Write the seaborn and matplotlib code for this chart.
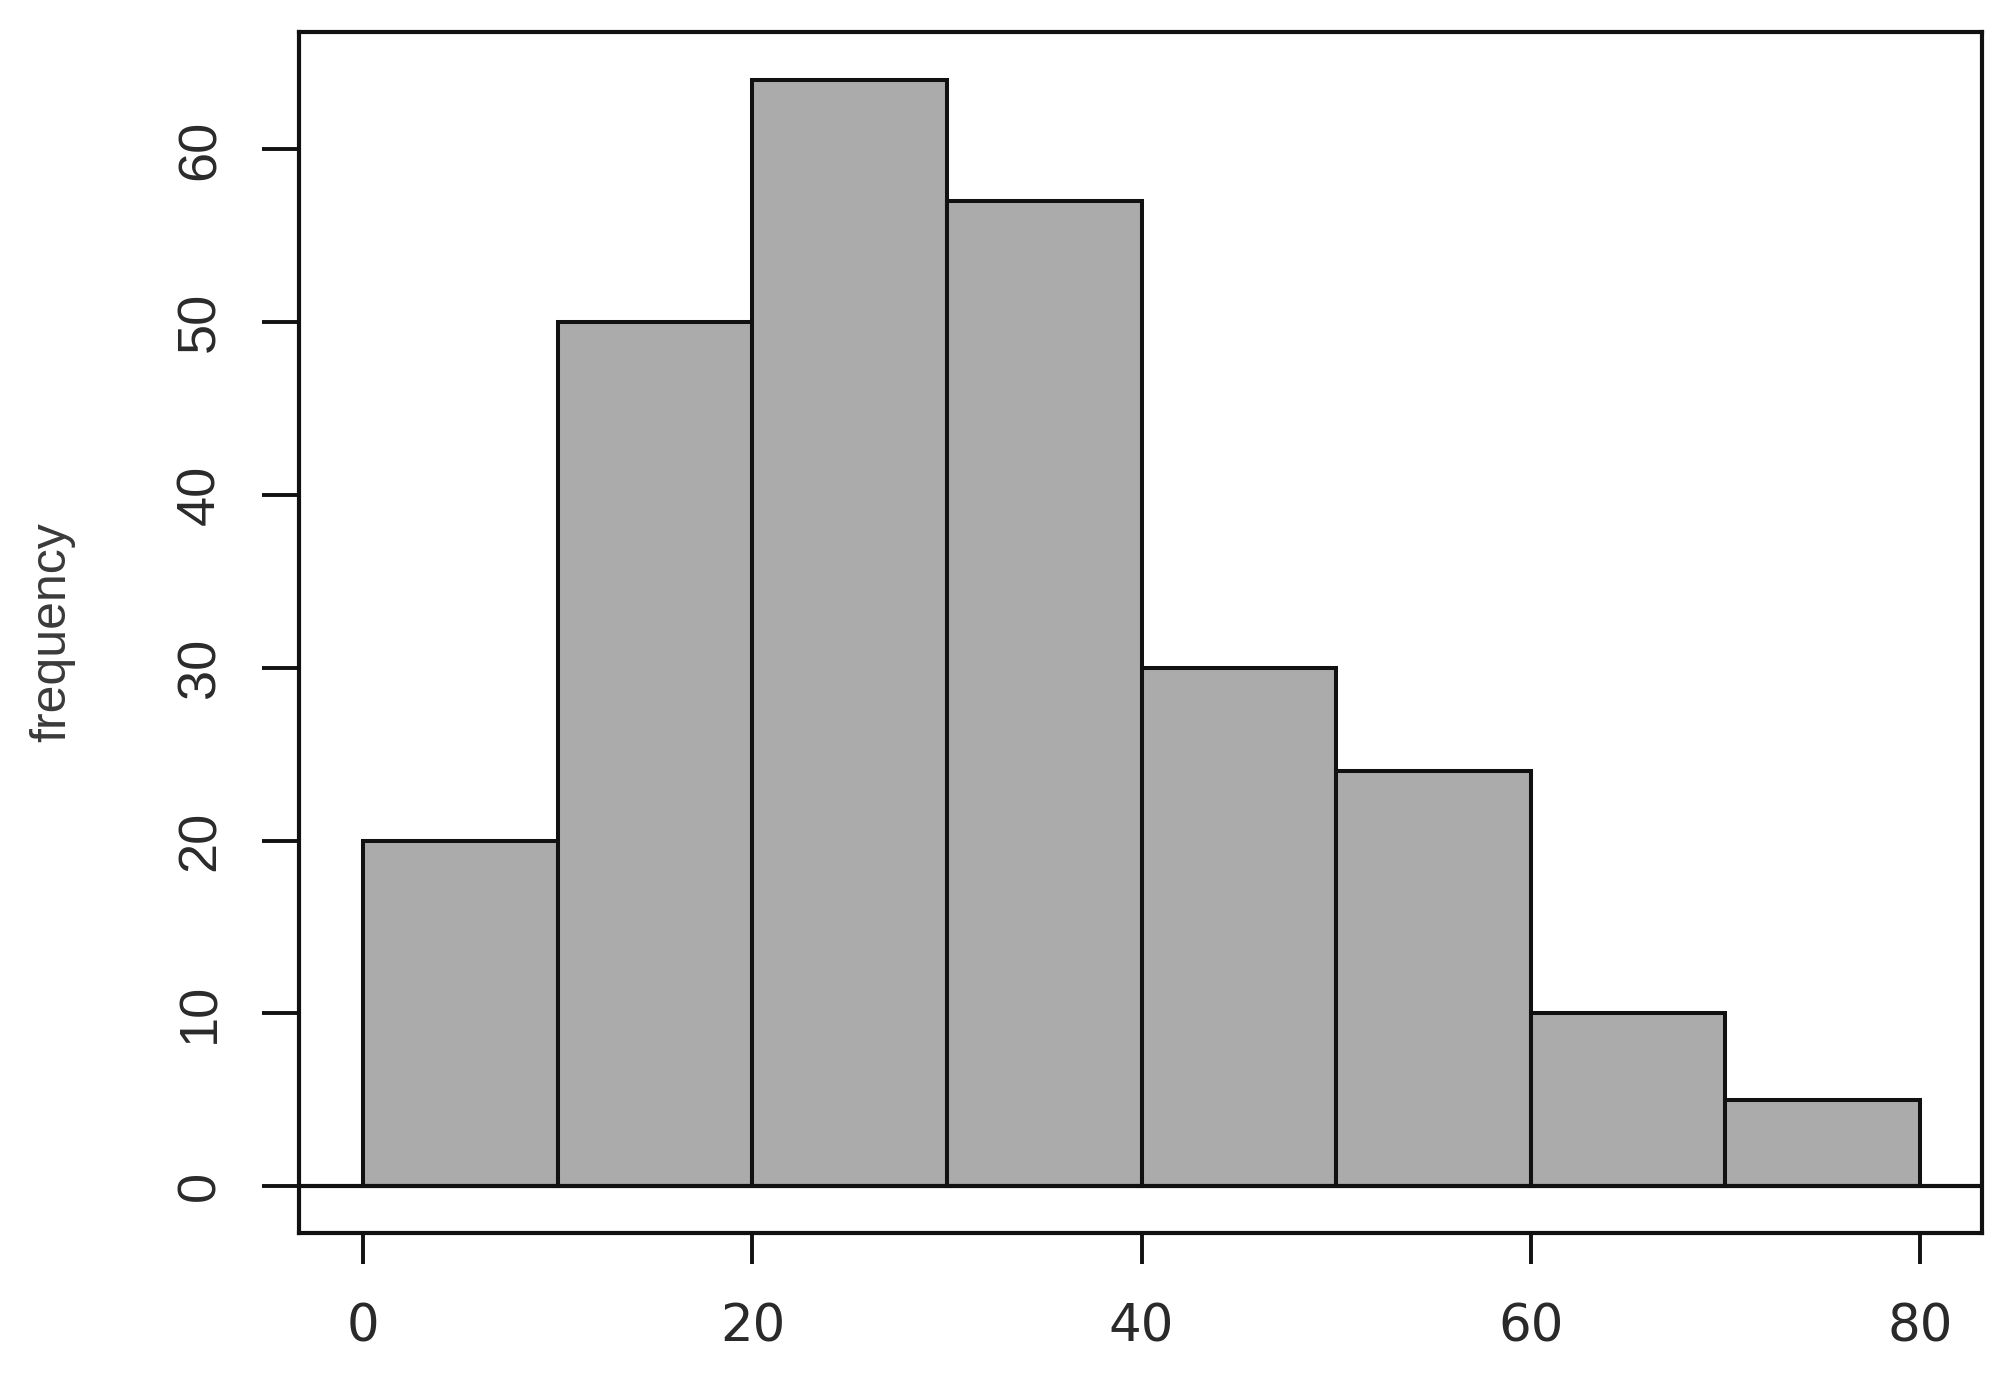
import numpy as np
import pandas as pd
import matplotlib
matplotlib.use('Agg')
import matplotlib.pyplot as plt
import seaborn as sns

# Dados do histograma (limites das classes e frequencias)
bin_edges = [0, 10, 20, 30, 40, 50, 60, 70, 80]
frequencias = [20, 50, 64, 57, 30, 24, 10, 5]
x_ticks = [0, 20, 40, 60, 80]
y_ticks = [0, 10, 20, 30, 40, 50, 60]

centros = [(a + b) / 2 for a, b in zip(bin_edges[:-1], bin_edges[1:])]
df = pd.DataFrame({'valor': centros, 'freq': frequencias})

sns.set_style('white')
plt.rcParams['font.family'] = ['Liberation Sans', 'DejaVu Sans']

fig = plt.figure(figsize=(20.14, 13.85), dpi=100)
ax = fig.add_axes([0.1485, 0.1097, 0.8356, 0.8672])

sns.histplot(data=df, x='valor', weights='freq', bins=bin_edges,
             color='#ababab', edgecolor='#111111', linewidth=2.9,
             alpha=1, ax=ax)

ax.axhline(0, color='#111111', linewidth=3.0, zorder=3)

ax.set_xlim(-3.3, 83.2)
ax.set_ylim(-2.72, 66.8)
ax.set_xticks(x_ticks)
ax.set_yticks(y_ticks)

for s in ax.spines.values():
    s.set_visible(True)
    s.set_color('#111111')
    s.set_linewidth(3.0)

cor_txt = '#2a2a2a'
# imagem original esticada na horizontal: fonte mais larga no eixo x
fonte_x = ['DejaVu Sans']

ax.tick_params(axis='x', direction='out', length=22, width=2.8,
               color='#111111', pad=28, labelsize=37, labelcolor=cor_txt,
               bottom=True)
ax.tick_params(axis='y', direction='out', length=27, width=2.8,
               color='#111111', pad=26, labelsize=39, labelcolor=cor_txt,
               left=True, labelrotation=90)
for lbl in ax.get_xticklabels():
    lbl.set_family(fonte_x)
for lbl in ax.get_yticklabels():
    lbl.set_va('center')

ax.set_xlabel('')
ax.set_ylabel('frequency', fontsize=36, color='#3a3a3a')
ax.yaxis.set_label_coords(-0.133, 0.5)

fig.savefig('out.png', dpi=100, facecolor='white')
